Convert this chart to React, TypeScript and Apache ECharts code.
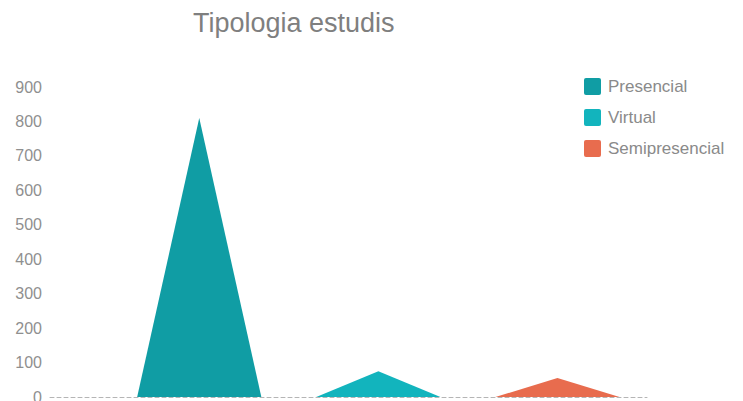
import React, { useEffect, useRef } from "react";
import * as echarts from "echarts";

const titleText = "Tipologia estudis";
const seriesNames = ["Presencial", "Virtual", "Semipresencial"];
const seriesValues = [810, 75, 55];
const seriesPositions = [2.5, 5.5, 8.5];
const seriesColors = ["#109DA4", "#12B4BD", "#E86C4E"];
const yTicks = [0, 100, 200, 300, 400, 500, 600, 700, 800, 900];

export default function App() {
  const ref = useRef<HTMLDivElement>(null);
  useEffect(() => {
    if (!ref.current) return;
    const chart = echarts.init(ref.current, null, { renderer: "svg" });
    const halfWidth = 1.04;
    const option: any = {
      animation: false,
      title: {
        text: titleText,
        left: 188,
        top: 4,
        textStyle: {
          fontFamily: "Liberation Sans, Arial, sans-serif",
          fontSize: 27,
          fontWeight: "normal",
          color: "#7f7f7f",
        },
      },
      legend: {
        orient: "vertical",
        left: 584,
        top: 78,
        padding: 0,
        itemWidth: 17,
        itemHeight: 17,
        itemGap: 14,
        icon: "path://M2,0 L15,0 Q17,0 17,2 L17,15 Q17,17 15,17 L2,17 Q0,17 0,15 L0,2 Q0,0 2,0 Z",
        data: seriesNames,
        textStyle: {
          fontFamily: "Liberation Sans, Arial, sans-serif",
          fontSize: 17,
          color: "#8a8a8a",
          padding: [0, 0, 0, 2],
        },
      },
      grid: { left: 50, right: 96, top: 87, bottom: 4, containLabel: false, outerBoundsMode: "none" },
      xAxis: {
        type: "value",
        min: 0,
        max: 10,
        axisLabel: { show: false },
        axisTick: { show: false },
        splitLine: { show: false },
        axisLine: {
          show: true,
          lineStyle: { color: "#b5b5b5", type: [4, 3], width: 1 },
        },
      },
      yAxis: {
        type: "value",
        min: yTicks[0],
        max: yTicks[yTicks.length - 1],
        interval: 100,
        axisLine: { show: false },
        axisTick: { show: false },
        splitLine: { show: false },
        axisLabel: {
          margin: 8,
          fontFamily: "Liberation Sans, Arial, sans-serif",
          fontSize: 16,
          color: "#8f8f8f",
        },
      },
      series: seriesNames.map((name, i) => ({
        name,
        type: "custom",
        itemStyle: { color: seriesColors[i] },
        data: [[seriesPositions[i], seriesValues[i]]],
        encode: { x: 0, y: 1 },
        renderItem: (params: any, api: any) => {
          const x = api.value(0);
          const v = api.value(1);
          const top = api.coord([x, v]);
          const l = api.coord([x - halfWidth, 0]);
          const r = api.coord([x + halfWidth, 0]);
          return {
            type: "polygon",
            shape: { points: [l, top, r] },
            style: { fill: seriesColors[i] },
          };
        },
      })),
    };
    chart.setOption(option);
    return () => chart.dispose();
  }, []);
  return (
    <div
      ref={ref}
      style={{ position: "absolute", left: 0, top: 0, width: 743, height: 401 }}
    />
  );
}
